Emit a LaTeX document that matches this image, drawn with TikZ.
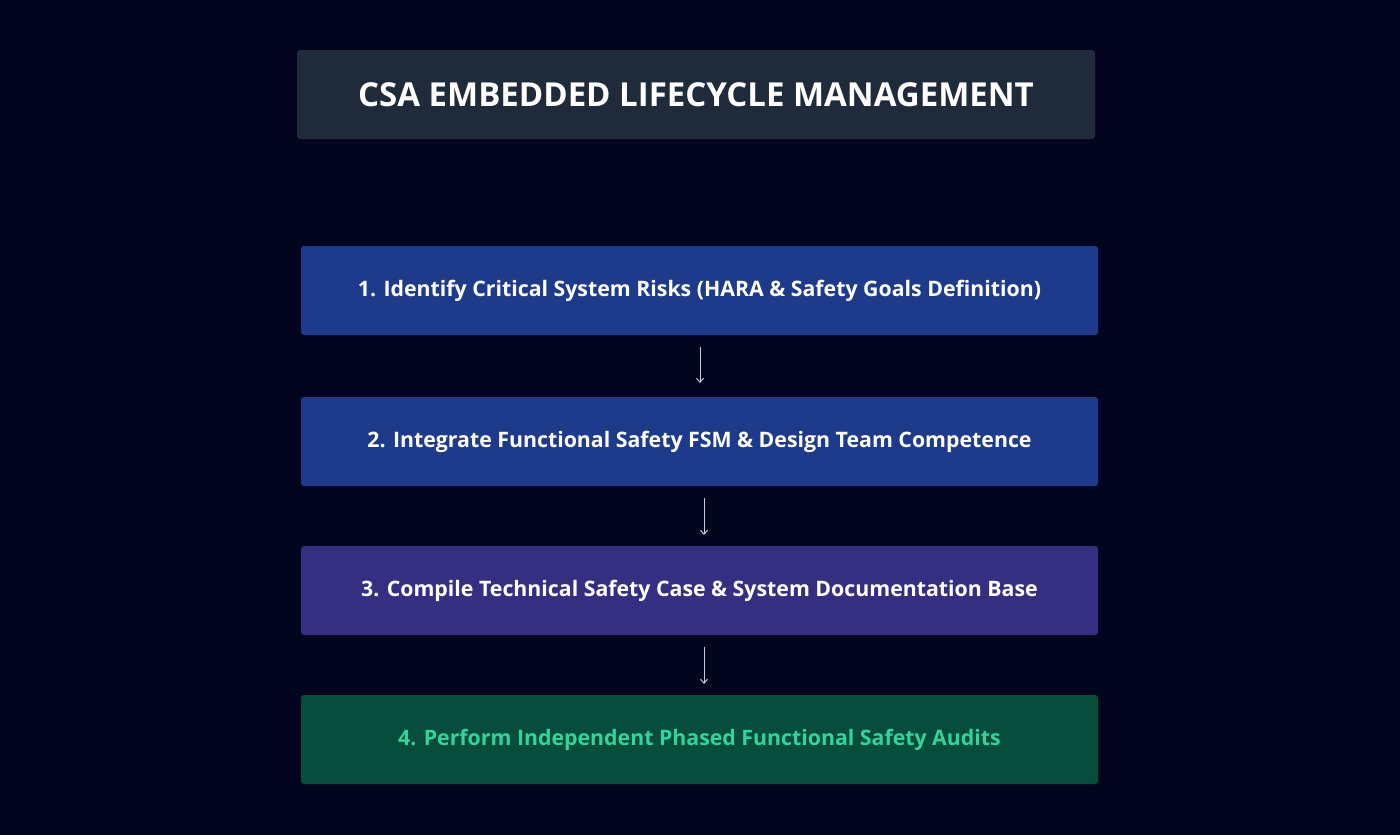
\documentclass[tikz,border=0pt]{standalone}
\usepackage{fontspec}
\setmainfont{Open Sans}
\usetikzlibrary{arrows.meta}
\definecolor{bg}{HTML}{03051E}
\definecolor{titlebg}{HTML}{1F2A3B}
\definecolor{bluebox}{HTML}{1E3A8A}
\definecolor{purplebox}{HTML}{352F82}
\definecolor{greenbox}{HTML}{074D3B}
\definecolor{greentext}{HTML}{34D399}
\definecolor{arr}{HTML}{C8CCD8}
\begin{document}
\begin{tikzpicture}[x=1pt,y=-1pt,
  stagebox/.style={rounded corners=3pt,minimum width=797pt,minimum height=89pt,inner sep=0pt,font=\fontsize{21.3}{25}\selectfont\bfseries,text=white},
  conn/.style={draw=arr,line width=1pt,-{Straight Barb[length=4pt,width=7pt]}}]
\fill[bg] (0,0) rectangle (1400,835);
\useasboundingbox (0,0) rectangle (1400,835);
\node[fill=titlebg,rounded corners=3pt,minimum width=798pt,minimum height=89pt,inner sep=0pt,text=white,font=\fontsize{33}{38}\selectfont\bfseries] (title) at (696,94.5) {\raisebox{-2pt}{CSA EMBEDDED LIFECYCLE MANAGEMENT}};
\node[stagebox,fill=bluebox] (s1) at (699.5,290.5) {\raisebox{-3pt}{1. Identify Critical System Risks (HARA \& Safety Goals Definition)}};
\node[stagebox,fill=bluebox] (s2) at (699.5,441.5) {\raisebox{-3pt}{2. Integrate Functional Safety FSM \& Design Team Competence}};
\node[stagebox,fill=purplebox] (s3) at (699.5,590.5) {\raisebox{-3pt}{3. Compile Technical Safety Case \& System Documentation Base}};
\node[stagebox,fill=greenbox,text=greentext] (s4) at (699.5,739.5) {\raisebox{-3pt}{4. Perform Independent Phased Functional Safety Audits}};
\coordinate (a1s) at (700,347); \coordinate (a1e) at (700,383);
\coordinate (a2s) at (704,498); \coordinate (a2e) at (704,535);
\coordinate (a3s) at (704,647); \coordinate (a3e) at (704,684);
\draw[conn] (a1s) -- (a1e);
\draw[conn] (a2s) -- (a2e);
\draw[conn] (a3s) -- (a3e);
\end{tikzpicture}
\end{document}
